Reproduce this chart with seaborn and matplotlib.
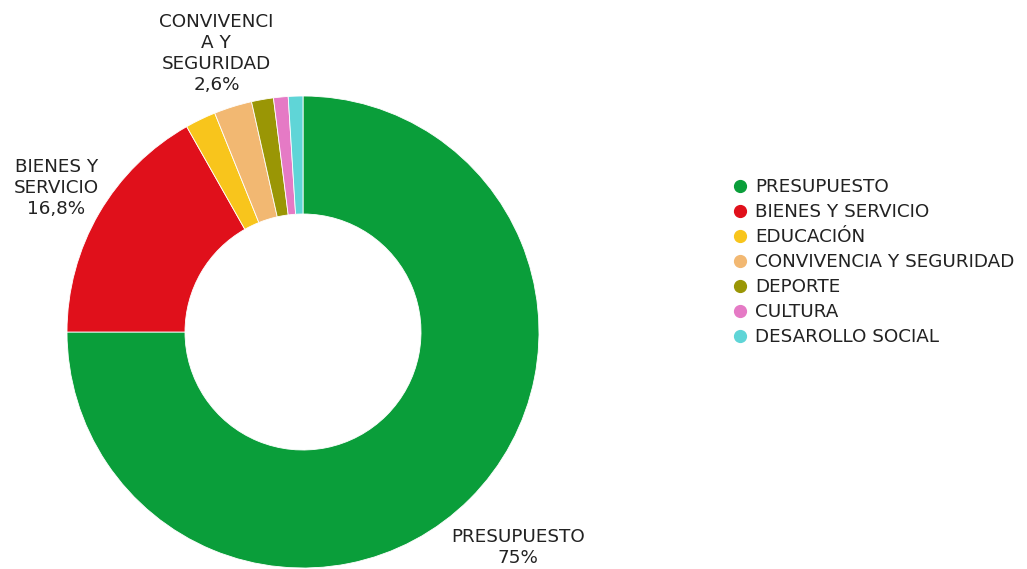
import matplotlib
matplotlib.use("Agg")
import matplotlib.pyplot as plt
from matplotlib.lines import Line2D
import numpy as np
import seaborn as sns

# datos
categorias = ['PRESUPUESTO', 'BIENES Y SERVICIO', 'EDUCACIÓN', 'CONVIVENCIA Y SEGURIDAD',
              'DEPORTE', 'CULTURA', 'DESAROLLO SOCIAL']
valores = [75.0, 16.8, 2.1, 2.6, 1.5, 1.0, 1.0]
etiquetas = {0: 'PRESUPUESTO\n75%', 1: 'BIENES Y\nSERVICIO\n16,8%',
             3: 'CONVIVENCI\nA Y\nSEGURIDAD\n2,6%'}
distancias = {0: 1.29, 1: 1.21, 3: 1.235}
colores = ['#0a9e3a', '#e0101b', '#f8c51c', '#f2b872', '#9a9605', '#e57ac5', '#5fd5d7']

sns.set_theme(style="white")
plt.rcParams['font.family'] = ['DejaVu Sans']

fig = plt.figure(figsize=(10.27, 5.69), dpi=100)
cx, cy, r = 303, 332, 236
ax = fig.add_axes([(cx - r) / 1027, (569 - cy - r) / 569, 2 * r / 1027, 2 * r / 569])

wedges, _ = ax.pie(valores, colors=colores, startangle=90, counterclock=False,
                   radius=1, wedgeprops=dict(width=0.5, edgecolor='white', linewidth=0.6))
ax.set_xlim(-1, 1)
ax.set_ylim(-1, 1)
ax.set_aspect('equal')
ax.axis('off')

# etiquetas fuera del anillo
for i, txt in etiquetas.items():
    w = wedges[i]
    ang = np.deg2rad((w.theta1 + w.theta2) / 2)
    d = distancias[i]
    ax.text(d * np.cos(ang), d * np.sin(ang), txt, ha='center', va='center',
            fontsize=13.2, color='#222222', linespacing=1.22, clip_on=False)

handles = [Line2D([0], [0], marker='o', linestyle='', markersize=8.5,
                  markerfacecolor=c, markeredgecolor=c) for c in colores]
fig.legend(handles, categorias, loc='center left', bbox_to_anchor=(0.694, 0.539),
           frameon=False, fontsize=13.2, handletextpad=0.2, labelspacing=0.38,
           handlelength=1.2, labelcolor='#222222')

fig.savefig('out.png', dpi=100)
